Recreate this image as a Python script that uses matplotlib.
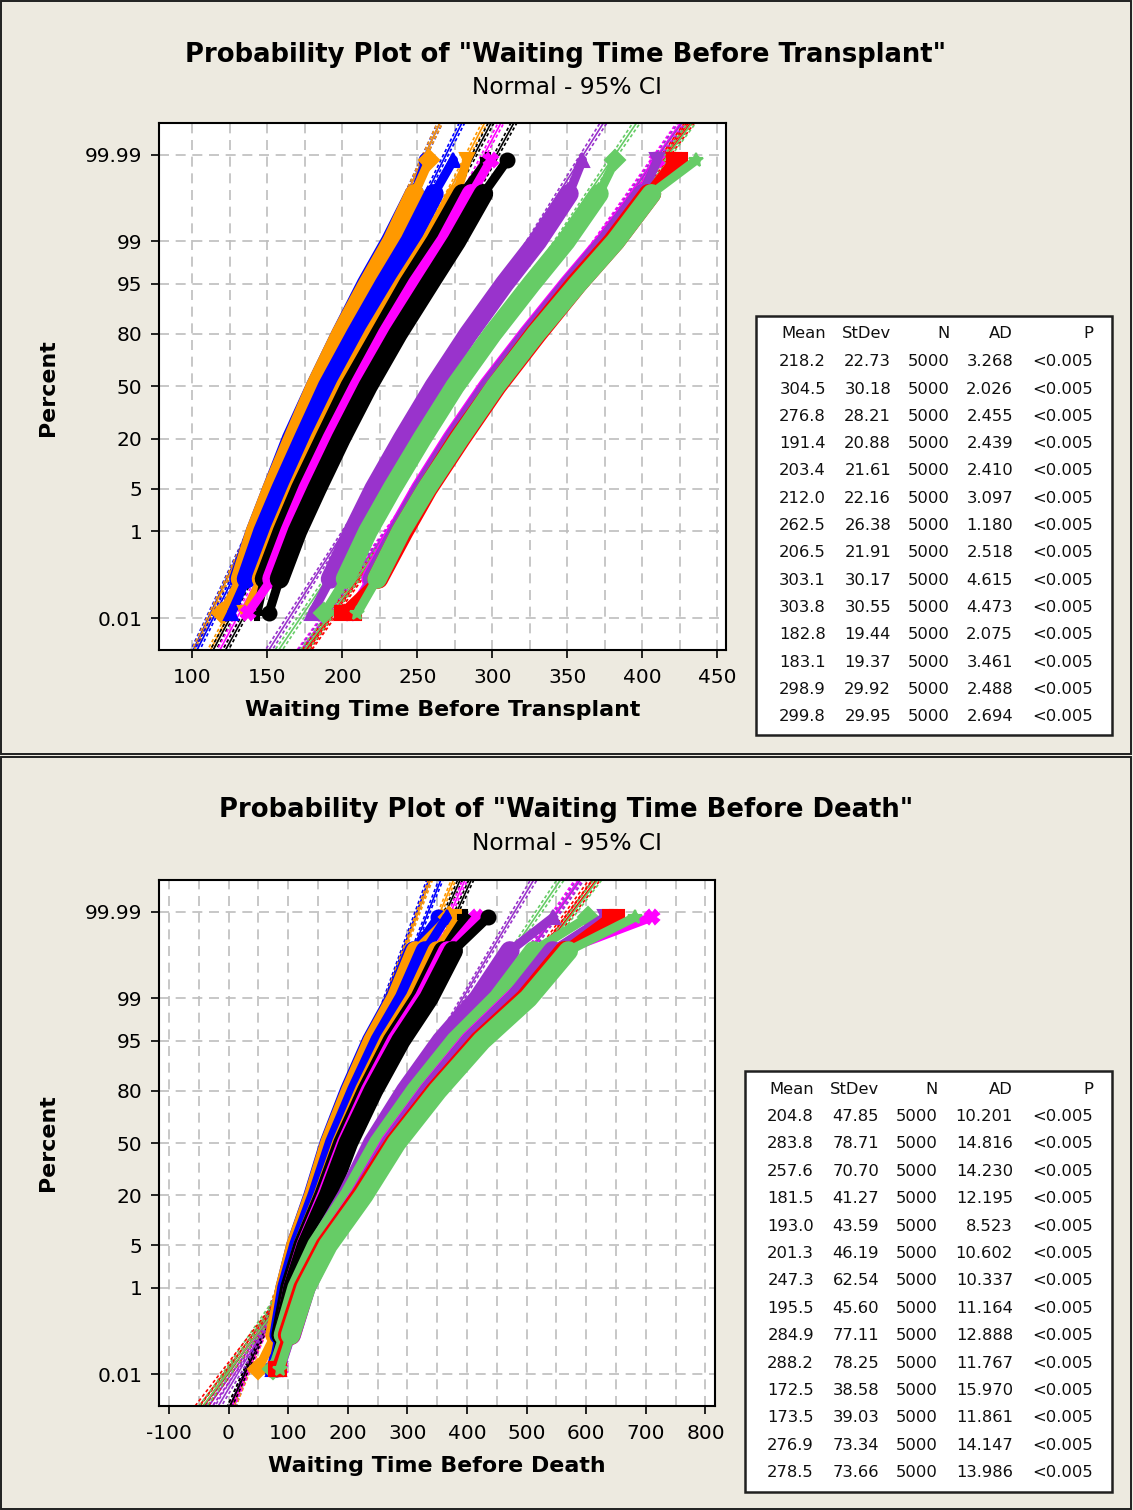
import math
import numpy as np
import matplotlib
matplotlib.use("Agg")
import matplotlib.pyplot as plt
from matplotlib.patches import Rectangle
from matplotlib.ticker import FixedLocator, MultipleLocator
from statistics import NormalDist

plt.rcParams['font.family'] = ['DejaVu Sans']

# ---------------------------------------------------------------- data
# percent levels at which the plotted (sorted) data were read
PCT = [0.014, 0.1, 1, 5, 20, 50, 80, 95, 99, 99.9, 99.986]
N_OBS = 5000

# ---- "Waiting Time Before Transplant"
T_MEAN = [218.2, 304.5, 276.8, 191.4, 203.4, 212.0, 262.5, 206.5, 303.1, 303.8, 182.8, 183.1, 298.9, 299.8]
T_STDEV = [22.73, 30.18, 28.21, 20.88, 21.61, 22.16, 26.38, 21.91, 30.17, 30.55, 19.44, 19.37, 29.92, 29.95]
T_AD = ["3.268", "2.026", "2.455", "2.439", "2.410", "3.097", "1.180", "2.518", "4.615", "4.473", "2.075", "3.461", "2.488", "2.694"]
T01 = [151, 158, 170, 183, 199, 217, 237, 258, 276, 294, 310]
T02 = [200, 224, 241, 257, 279, 303, 330, 357, 382, 406, 425]
T03 = [188, 202, 217, 233, 253, 275, 300, 326, 349, 371, 382]
T04 = [126, 136, 147, 159, 174, 190, 209, 228, 245, 261, 274]
T05 = [135, 146, 158, 170, 185, 202, 221, 241, 259, 276, 283]
T06 = [137, 153, 165, 177, 193, 211, 230, 250, 269, 286, 299]
T07 = [180, 192, 207, 221, 240, 261, 284, 308, 330, 351, 360]
T08 = [143, 148, 160, 172, 188, 205, 225, 244, 262, 280, 297]
T09 = [208, 223, 239, 256, 277, 302, 328, 355, 380, 404, 421]
T10 = [210, 223, 239, 256, 278, 302, 329, 357, 382, 406, 436]
T11 = [122, 131, 142, 153, 166, 182, 199, 216, 232, 248, 256]
T12 = [120, 132, 142, 153, 167, 182, 199, 217, 233, 248, 258]
T13 = [205, 219, 236, 252, 273, 297, 324, 351, 375, 399, 410]
T14 = [206, 220, 237, 253, 274, 298, 325, 352, 376, 400, 410]

# ---- "Waiting Time Before Death"
D_MEAN = [204.8, 283.8, 257.6, 181.5, 193.0, 201.3, 247.3, 195.5, 284.9, 288.2, 172.5, 173.5, 276.9, 278.5]
D_STDEV = [47.85, 78.71, 70.70, 41.27, 43.59, 46.19, 62.54, 45.60, 77.11, 78.25, 38.58, 39.03, 73.34, 73.66]
D_AD = ["10.201", "14.816", "14.230", "12.195", "8.523", "10.602", "10.337", "11.164", "12.888", "11.767", "15.970", "11.861", "14.147", "13.986"]
D01 = [80, 92, 108, 131, 168, 201, 243, 289, 336, 377, 436]
D02 = [79, 99, 125, 162, 222, 278, 347, 422, 500, 567, 651]
D03 = [74, 92, 115, 148, 203, 252, 314, 381, 452, 512, 603]
D04 = [74, 85, 98, 118, 149, 178, 215, 254, 295, 330, 366]
D05 = [80, 91, 105, 125, 159, 190, 228, 269, 313, 350, 385]
D06 = [81, 93, 108, 130, 165, 198, 238, 282, 328, 368, 416]
D07 = [85, 100, 121, 150, 199, 242, 297, 357, 419, 472, 545]
D08 = [77, 88, 103, 125, 160, 192, 232, 275, 321, 360, 397]
D09 = [84, 104, 129, 165, 225, 279, 347, 420, 497, 563, 640]
D10 = [86, 104, 130, 167, 227, 282, 351, 425, 503, 570, 682]
D11 = [72, 82, 95, 113, 142, 169, 203, 240, 279, 311, 352]
D12 = [50, 78, 95, 113, 143, 170, 205, 242, 281, 314, 370]
D13 = [86, 105, 129, 163, 220, 271, 336, 405, 479, 560, 710]
D14 = [87, 105, 130, 164, 221, 273, 337, 407, 481, 544, 631]

Y_TICKS = [0.01, 1, 5, 20, 50, 80, 95, 99, 99.99]
Y_TICKLABELS = ["0.01", "1", "5", "20", "50", "80", "95", "99", "99.99"]
T_XTICKS = [100, 150, 200, 250, 300, 350, 400, 450]
D_XTICKS = [-100, 0, 100, 200, 300, 400, 500, 600, 700, 800]

# ---------------------------------------------------------------- style
COLORS = ['#000000', '#FF0000', '#66CC66', '#0000FF', '#FF9900', '#FF00FF', '#9933CC']
MARKERS = ['o', 's', 'D', '^', 'v', 'X', '^', 'P', 's', '*', 'o', 'D', 'X', 'v']
T_ORDER = [10, 11, 3, 4, 7, 5, 0, 6, 2, 12, 13, 8, 1, 9]
D_ORDER = [10, 11, 3, 4, 7, 5, 0, 6, 2, 12, 13, 1, 8, 9]

W, H, DPI = 1133, 1510, 100
BG = '#EDEAE0'

fig = plt.figure(figsize=(W / DPI, H / DPI), dpi=DPI, facecolor=BG)

def fx(x):
    return x / W

def fy(y):
    return 1 - y / H

# normal probability scale
_nd = NormalDist()

def _ppf(v):
    if not math.isfinite(v):
        return v
    v = min(max(v / 100.0, 1e-15), 1 - 1e-15)
    return _nd.inv_cdf(v)

def _cdf(v):
    if math.isnan(v):
        return v
    return 100.0 * _nd.cdf(v)

_vppf = np.vectorize(_ppf, otypes=[float])
_vcdf = np.vectorize(_cdf, otypes=[float])

def fwd(p):
    return _vppf(np.asarray(p, dtype=float))

def inv(z):
    return _vcdf(np.asarray(z, dtype=float))

ZLIM = 4.23
YLIM = (100 * _nd.cdf(-ZLIM), 100 * _nd.cdf(ZLIM))
FIT_Z = np.linspace(-4.6, 4.6, 60)
FIT_P = 100 * np.array([_nd.cdf(z) for z in FIT_Z])

GRID_KW = dict(color='#BEBEBE', linestyle=(0, (6, 4)), linewidth=1.2)


def panel(box, xlim, xticks, xminor, series, means, sds, order):
    l, r, t, b = box
    ax = fig.add_axes([fx(l), fy(b), fx(r - l), (b - t) / H])
    ax.set_facecolor('white')
    ax.set_yscale('function', functions=(fwd, inv))
    ax.set_ylim(*YLIM)
    ax.set_xlim(*xlim)
    ax.yaxis.set_major_locator(FixedLocator(Y_TICKS))
    ax.set_yticklabels(Y_TICKLABELS)
    ax.yaxis.set_minor_locator(FixedLocator([]))
    ax.set_xticks(xticks)
    ax.set_xticklabels([str(v) for v in xticks])
    ax.xaxis.set_minor_locator(MultipleLocator(xminor))
    ax.grid(True, which='major', axis='y', **GRID_KW)
    ax.grid(True, which='both', axis='x', **GRID_KW)
    ax.set_axisbelow(True)
    ax.tick_params(axis='both', which='major', direction='out', length=6, width=1.2,
                   labelsize=14.5, colors='black')
    ax.tick_params(axis='x', which='major', pad=7)
    ax.tick_params(axis='y', which='major', pad=6)
    ax.tick_params(axis='x', which='minor', length=0)
    for sp in ax.spines.values():
        sp.set_linewidth(1.5)
        sp.set_color('black')

    # fitted normal lines with 95% CI (drawn under the data)
    for i in order:
        c = COLORS[i % 7]
        m, s = means[i], sds[i]
        xf = m + s * FIT_Z
        half = 1.96 * s * np.sqrt(1.0 / N_OBS + FIT_Z ** 2 / (2 * (N_OBS - 1)))
        ax.plot(xf, FIT_P, color=c, lw=1.2, zorder=2)
        ax.plot(xf - half, FIT_P, color=c, lw=1.2, ls=(0, (2, 1.5)), zorder=2)
        ax.plot(xf + half, FIT_P, color=c, lw=1.2, ls=(0, (2, 1.5)), zorder=2)

    # data bands
    for k, i in enumerate(order):
        c = COLORS[i % 7]
        vals = series[i]
        z0 = 3 + k * 0.1
        ax.plot(vals[1:-1], PCT[1:-1], color=c, lw=14, solid_capstyle='round', zorder=z0)
        ax.plot(vals[:2], PCT[:2], color=c, lw=6.5, solid_capstyle='round', zorder=z0)
        ax.plot(vals[-2:], PCT[-2:], color=c, lw=6.5, solid_capstyle='round', zorder=z0)
        ax.plot([vals[0], vals[-1]], [PCT[0], PCT[-1]], ls='none', marker=MARKERS[i],
                ms=10, color=c, mec=c, mew=1.5, zorder=z0 + 0.05)
    return ax


def fit_width(t, target, vertical=False):
    r = fig.canvas.get_renderer()
    bb = t.get_window_extent(renderer=r)
    cur = bb.height if vertical else bb.width
    t.set_fontsize(t.get_fontsize() * target / cur)


def table(box, cols, header_y, row0, dy, means, sds, ads):
    l, t, r, b = box
    fig.patches.append(Rectangle((fx(l), fy(b)), fx(r - l), (b - t) / H, transform=fig.transFigure,
                                 facecolor='white', edgecolor='#202020', lw=1.8, zorder=1))
    heads = ['Mean', 'StDev', 'N', 'AD', 'P']
    for x, h in zip(cols, heads):
        fig.text(fx(x), fy(header_y), h, ha='right', va='center', fontsize=11.8, color='#101010')
    for k in range(len(means)):
        y = row0 + k * dy
        vals = [f"{means[k]:.1f}", f"{sds[k]:.2f}", str(N_OBS), ads[k], "<0.005"]
        for x, v in zip(cols, vals):
            fig.text(fx(x), fy(y), v, ha='right', va='center', fontsize=11.8, color='#101010')


# panel frames
fig.patches.append(Rectangle((fx(1), fy(754)), fx(1130), 753 / H, transform=fig.transFigure,
                             facecolor='none', edgecolor='#202020', lw=1.4))
fig.patches.append(Rectangle((fx(1), fy(1508.5)), fx(1130), 751.5 / H, transform=fig.transFigure,
                             facecolor='none', edgecolor='#202020', lw=1.4))

T_SERIES = [T01, T02, T03, T04, T05, T06, T07, T08, T09, T10, T11, T12, T13, T14]
D_SERIES = [D01, D02, D03, D04, D05, D06, D07, D08, D09, D10, D11, D12, D13, D14]

ax1 = panel((159, 725.6, 122.7, 650), (77.7, 455.4), T_XTICKS, 25, T_SERIES, T_MEAN, T_STDEV, T_ORDER)
ax2 = panel((159, 715, 880, 1406), (-116.6, 816), D_XTICKS, 50, D_SERIES, D_MEAN, D_STDEV, D_ORDER)

# titles and labels
t1 = fig.text(fx(566), fy(55), 'Probability Plot of "Waiting Time Before Transplant"',
              ha='center', va='center', fontsize=18, fontweight='bold')
fit_width(t1, 765)
s1 = fig.text(fx(567), fy(88), 'Normal - 95% CI', ha='center', va='center', fontsize=15)
fit_width(s1, 190)
t2 = fig.text(fx(566), fy(810), 'Probability Plot of "Waiting Time Before Death"',
              ha='center', va='center', fontsize=t1.get_fontsize(), fontweight='bold')
s2 = fig.text(fx(567), fy(843), 'Normal - 95% CI', ha='center', va='center', fontsize=s1.get_fontsize())

x1 = fig.text(fx(442.3), fy(710), 'Waiting Time Before Transplant', ha='center', va='center',
              fontsize=16, fontweight='bold')
fit_width(x1, 395)
x2 = fig.text(fx(437), fy(1466), 'Waiting Time Before Death', ha='center', va='center',
              fontsize=x1.get_fontsize(), fontweight='bold')
y1 = fig.text(fx(48), fy(388), 'Percent', ha='center', va='center', rotation=90,
              fontsize=x1.get_fontsize(), fontweight='bold')
y2 = fig.text(fx(48), fy(1143), 'Percent', ha='center', va='center', rotation=90,
              fontsize=x1.get_fontsize(), fontweight='bold')

table((756, 316, 1112, 735), [826, 891, 950, 1013, 1093], 333, 361.7, 27.3, T_MEAN, T_STDEV, T_AD)
table((745, 1071, 1112, 1492), [814, 879, 938, 1013, 1093], 1089, 1116.5, 27.4, D_MEAN, D_STDEV, D_AD)

fig.savefig('out.png', dpi=DPI, facecolor=BG)
